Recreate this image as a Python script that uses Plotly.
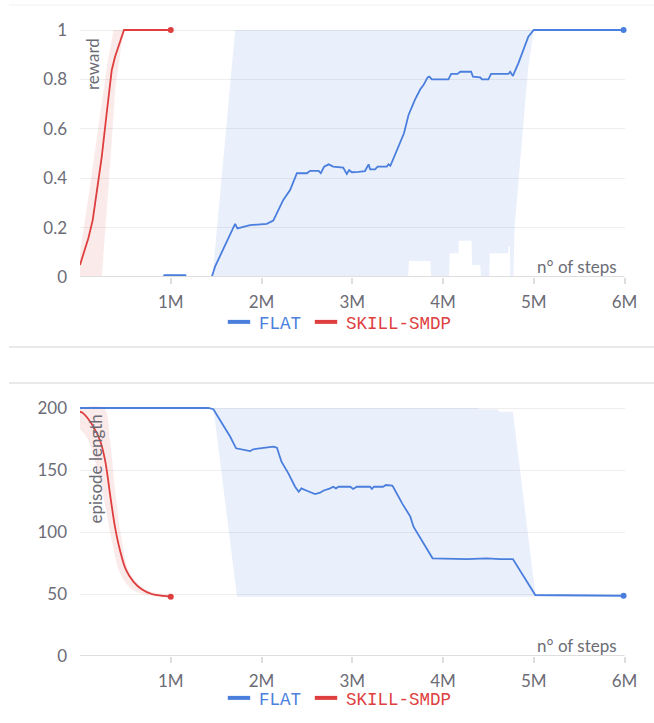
import plotly.graph_objects as go

# ---------------- data (steps in millions) ----------------
TICK_STEPS = [1, 2, 3, 4, 5, 6]
TICK_TEXT = ["1M", "2M", "3M", "4M", "5M", "6M"]
REWARD_TICKS = [0, 0.2, 0.4, 0.6, 0.8, 1]
LENGTH_TICKS = [0, 50, 100, 150, 200]

# FLAT - reward (mean)
flat_reward_steps = [0, 0.92, 0.93, 1.16, 1.17, 1.452, 1.488, 1.69, 1.709, 1.735,
                     1.80, 1.874, 2.058, 2.13, 2.24, 2.315, 2.39, 2.5, 2.536, 2.63,
                     2.654, 2.69, 2.74, 2.79, 2.90, 2.94, 2.966, 2.995, 3.07, 3.14,
                     3.18, 3.197, 3.25, 3.28, 3.38, 3.40, 3.42, 3.49, 3.53, 3.57,
                     3.62, 3.69, 3.75, 3.785, 3.83, 3.85, 3.877, 4.06, 4.09, 4.16,
                     4.19, 4.31, 4.33, 4.41, 4.43, 4.50, 4.53, 4.72, 4.74, 4.77,
                     4.83, 4.94, 5.0, 5.99]
flat_reward = [0, 0, 0.007, 0.007, 0, 0, 0.042, 0.204, 0.215, 0.197,
               0.204, 0.21, 0.215, 0.228, 0.312, 0.352, 0.42, 0.42, 0.43, 0.43,
               0.42, 0.447, 0.456, 0.447, 0.443, 0.417, 0.433, 0.424, 0.426, 0.429,
               0.456, 0.436, 0.436, 0.447, 0.447, 0.456, 0.45, 0.514, 0.548, 0.582,
               0.656, 0.717, 0.76, 0.777, 0.808, 0.811, 0.80, 0.80, 0.822, 0.822,
               0.831, 0.831, 0.811, 0.808, 0.80, 0.80, 0.822, 0.822, 0.831, 0.814,
               0.865, 0.973, 1.0, 1.0]
# FLAT - reward (max / min over runs)
flat_reward_hi_steps = [0, 0.92, 0.93, 1.16, 1.17, 1.46, 1.71, 5.99]
flat_reward_hi = [0, 0, 0.012, 0.012, 0, 0, 1, 1]
flat_reward_lo_steps = [0, 3.615, 3.625, 3.86, 3.87, 4.065, 4.075, 4.17, 4.175, 4.315,
                        4.32, 4.41, 4.42, 4.51, 4.515, 4.72, 4.722, 4.738, 4.742, 4.775,
                        4.79, 4.85, 4.94, 5.0, 5.99]
flat_reward_lo = [0, 0, 0.065, 0.065, 0, 0, 0.096, 0.096, 0.147, 0.147,
                  0.049, 0.049, 0, 0, 0.096, 0.096, 0.123, 0.123, 0, 0,
                  0.21, 0.447, 0.85, 1.0, 1.0]

# SKILL-SMDP - reward
skill_reward_steps = [0, 0.092, 0.14, 0.184, 0.24, 0.294, 0.35, 0.386, 0.42, 0.485, 1.0]
skill_reward = [0.049, 0.157, 0.23, 0.352, 0.487, 0.663, 0.838, 0.892, 0.932, 1.0, 1.0]
skill_reward_hi_steps = [0, 0.1, 0.2, 0.3, 0.37, 1.0]
skill_reward_hi = [0.1, 0.34, 0.6, 0.86, 1.0, 1.0]
skill_reward_lo_steps = [0, 0.24, 0.29, 0.34, 0.39, 0.46, 0.49, 1.0]
skill_reward_lo = [0, 0, 0.23, 0.5, 0.77, 0.95, 1.0, 1.0]

# FLAT - episode length
flat_len_steps = [0, 1.415, 1.47, 1.543, 1.654, 1.72, 1.764, 1.874, 1.91, 2.02,
                  2.13, 2.17, 2.22, 2.296, 2.37, 2.41, 2.44, 2.5, 2.555, 2.59,
                  2.646, 2.68, 2.756, 2.79, 2.82, 2.85, 2.977, 3.01, 3.05, 3.197,
                  3.216, 3.24, 3.34, 3.37, 3.44, 3.45, 3.55, 3.64, 3.675, 3.885,
                  4.26, 4.48, 4.63, 4.77, 5.017, 5.99]
flat_len = [200, 200, 199, 190.3, 177, 167.5, 166.7, 165.3, 166.7, 167.5,
            168.8, 168, 156.7, 147.3, 136.5, 132.5, 135.2, 133.3, 131.7, 130.6,
            131.7, 133.3, 135.2, 136.5, 135.2, 136.5, 136.5, 134.7, 136.5, 136.5,
            134.7, 136.5, 136.5, 137.9, 137.4, 136.5, 123.1, 112.4, 104.3, 78.8,
            78.2, 78.8, 78.2, 78.2, 49.2, 48.6]
flat_len_hi_steps = [0, 4.38, 4.4, 4.6, 4.62, 4.77, 5.02, 5.99]
flat_len_hi = [200, 200, 199, 199, 197, 197, 48.6, 48.6]
flat_len_lo_steps = [0, 1.47, 1.73, 5.99]
flat_len_lo = [200, 200, 47.8, 47.8]

# SKILL-SMDP - episode length
skill_len_steps = [0, 0.036, 0.147, 0.22, 0.276, 0.33, 0.386, 0.44, 0.507, 0.588,
                   0.68, 0.79, 0.918, 1.0]
skill_len = [197, 195.7, 185, 174, 158, 131, 104, 85.5, 69.4, 60,
             53.8, 50, 48.4, 47.8]
skill_len_hi_steps = [0, 0.26, 0.33, 0.386, 0.46, 0.55, 0.74, 1.0]
skill_len_hi = [200, 200, 174, 134, 93.5, 67, 53, 48.5]
skill_len_lo_steps = [0, 0.092, 0.24, 0.35, 0.44, 0.585, 0.8, 1.0]
skill_len_lo = [183, 174, 134, 93.5, 67, 53, 48.5, 47.3]

# ---------------- styling ----------------
BLUE = "rgb(74,127,222)"
RED = "rgb(222,62,62)"
BLUE_BAND = "rgba(74,127,222,0.12)"
RED_BAND = "rgba(222,62,62,0.11)"
GREY_TEXT = "rgb(108,108,118)"
AXIS_GREY = "rgb(222,222,222)"
GRID_GREY = "rgb(238,238,238)"
TICK_FONT = dict(family="Lato, sans-serif", size=17, color=GREY_TEXT)
LEGEND_FONT = dict(family="Liberation Mono, monospace", size=17.5)

W, H = 654, 723
X0, X1 = 80, 624.5


def py(px):
    """Convert a pixel row (from the top) into paper coordinates."""
    return 1 - px / H


def band(xs_hi, hi, xs_lo, lo):
    return list(xs_hi) + list(xs_lo)[::-1], list(hi) + list(lo)[::-1]


fig = go.Figure()

panels = [
    dict(xa="x", ya="y", legend="legend",
         flat=(flat_reward_steps, flat_reward),
         flat_band=band(flat_reward_hi_steps, flat_reward_hi, flat_reward_lo_steps, flat_reward_lo),
         skill=(skill_reward_steps, skill_reward),
         skill_band=band(skill_reward_hi_steps, skill_reward_hi, skill_reward_lo_steps, skill_reward_lo),
         shape="linear"),
    dict(xa="x2", ya="y2", legend="legend2",
         flat=(flat_len_steps, flat_len),
         flat_band=band(flat_len_hi_steps, flat_len_hi, flat_len_lo_steps, flat_len_lo),
         skill=(skill_len_steps, skill_len),
         skill_band=band(skill_len_hi_steps, skill_len_hi, skill_len_lo_steps, skill_len_lo),
         shape="spline"),
]

for p in panels:
    common = dict(xaxis=p["xa"], yaxis=p["ya"], hoverinfo="skip", showlegend=False)
    bx, by = p["flat_band"]
    fig.add_trace(go.Scatter(x=bx, y=by, fill="toself", fillcolor=BLUE_BAND,
                             line=dict(width=0), mode="lines", **common))
    bx, by = p["skill_band"]
    fig.add_trace(go.Scatter(x=bx, y=by, fill="toself", fillcolor=RED_BAND,
                             line=dict(width=0, shape=p["shape"]), mode="lines", **common))
    fx, fy = p["flat"]
    fig.add_trace(go.Scatter(x=fx, y=fy, mode="lines",
                             line=dict(color=BLUE, width=1.8), **common))
    sx, sy = p["skill"]
    fig.add_trace(go.Scatter(x=sx, y=sy, mode="lines",
                             line=dict(color=RED, width=1.8, shape=p["shape"]), **common))
    # end-of-run markers
    fig.add_trace(go.Scatter(x=[fx[-1]], y=[fy[-1]], mode="markers", cliponaxis=False,
                             marker=dict(color=BLUE, size=6), **common))
    fig.add_trace(go.Scatter(x=[sx[-1]], y=[sy[-1]], mode="markers", cliponaxis=False,
                             marker=dict(color=RED, size=6), **common))
    # legend entries
    for name, col in (("FLAT", BLUE), ("SKILL-SMDP", RED)):
        fig.add_trace(go.Scatter(
            x=[None], y=[None], mode="markers", xaxis=p["xa"], yaxis=p["ya"],
            name=f'<span style="color:{col}">{name}</span>', legend=p["legend"],
            marker=dict(symbol="line-ew-open", size=16, color=col,
                        line=dict(color=col, width=4)),
        ))

xdom = [X0 / W, X1 / W]
xcommon = dict(domain=xdom, range=[0, 6], tickvals=TICK_STEPS, ticktext=TICK_TEXT,
               showgrid=False, zeroline=False, showline=False,
               ticks="outside", ticklen=6, tickwidth=1.5, tickcolor=AXIS_GREY,
               tickfont=TICK_FONT, ticklabelstandoff=4, fixedrange=True)
xinner = dict(domain=xdom, range=[0, 6], tickvals=TICK_STEPS, showticklabels=False,
              showgrid=False, zeroline=False, showline=False, ticks="inside",
              ticklen=5, tickwidth=1.5, tickcolor=AXIS_GREY)
ycommon = dict(showgrid=True, gridcolor=GRID_GREY, gridwidth=1, zeroline=False,
               showline=False, ticks="", tickfont=TICK_FONT, ticklabelstandoff=12,
               fixedrange=True)

# reward panel: 0 at row 277, 1 at row 30 ; length panel: 0 at 656, 200 at 408
r_top = 277 - (277 - 30) * 1.02
l_top = 656 - (656 - 408) / 200 * 204

fig.update_layout(
    width=W, height=H,
    margin=dict(l=0, r=0, t=0, b=0, autoexpand=False),
    paper_bgcolor="white", plot_bgcolor="white",
    xaxis=dict(anchor="y", **xcommon),
    yaxis=dict(anchor="x", domain=[py(277), py(r_top)], range=[0, 1.02],
               tickvals=REWARD_TICKS, **ycommon),
    xaxis2=dict(anchor="y2", **xcommon),
    yaxis2=dict(anchor="x2", domain=[py(656), py(l_top)], range=[0, 204],
                tickvals=LENGTH_TICKS, **ycommon),
    xaxis3=dict(anchor="y", overlaying="x", **xinner),
    xaxis4=dict(anchor="y2", overlaying="x2", **xinner),
    legend=dict(orientation="h", x=219 / W, xanchor="left", y=py(322), yanchor="middle",
                font=LEGEND_FONT, bgcolor="rgba(0,0,0,0)", itemwidth=30),
    legend2=dict(orientation="h", x=219 / W, xanchor="left", y=py(698), yanchor="middle",
                 font=LEGEND_FONT, bgcolor="rgba(0,0,0,0)", itemwidth=30),
    showlegend=True,
)

# x-axis baselines, drawn above the traces
for xr, yr in (("x", "y"), ("x2", "y2")):
    fig.add_shape(type="line", xref=f"{xr} domain", yref=yr, x0=0, x1=1, y0=0, y1=0,
                  layer="above", line=dict(color=AXIS_GREY, width=2.2))

# in-plot axis titles
title_font = dict(family="Lato, sans-serif", size=17, color=GREY_TEXT)
fig.add_annotation(text="reward", xref="paper", yref="paper", x=92 / W, y=py(36),
                   xanchor="center", yanchor="top", textangle=-90, showarrow=False,
                   font=title_font)
fig.add_annotation(text="episode length", xref="paper", yref="paper", x=95 / W, y=py(413),
                   xanchor="center", yanchor="top", textangle=-90, showarrow=False,
                   font=title_font)
for row in (266, 645):
    fig.add_annotation(text="n° of steps", xref="paper", yref="paper", x=619 / W, y=py(row),
                       xanchor="right", yanchor="middle", showarrow=False, font=title_font)

# panel separators
for row, col in ((5, "rgb(242,242,242)"), (347, "rgb(212,212,212)"), (383, "rgb(212,212,212)")):
    fig.add_shape(type="line", xref="paper", yref="paper", x0=9 / W, x1=1,
                  y0=py(row), y1=py(row), line=dict(color=col, width=1.2))

fig.write_html("out.html")
